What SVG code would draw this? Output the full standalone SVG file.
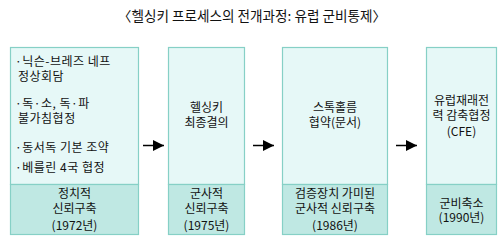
<svg xmlns="http://www.w3.org/2000/svg" width="502" height="244" viewBox="0 0 502 244">
<style>
text{font-family:"Noto Sans CJK KR","Noto Sans",sans-serif;font-size:12px;fill:#111}
.t{font-size:13.6px;text-anchor:middle}
.c{text-anchor:middle}
.top{fill:#e6f8f7;stroke:#86d0c6;stroke-width:1.2}
.bot{fill:#bfe8e3;stroke:#86d0c6;stroke-width:1.2}
.ar{stroke:#000;stroke-width:1.5;fill:none}
</style>
<defs>
<marker id="ah" markerWidth="12" markerHeight="12" refX="11" refY="5.5" orient="auto" markerUnits="userSpaceOnUse">
<path d="M0,0 L11,5.5 L0,11 Z" fill="#000"/>
</marker>
</defs>
<text class="t" x="252" y="21">〈헬싱키 프로세스의 전개과정: 유럽 군비통제〉</text>
<g id="node1">
<rect class="top" x="10.5" y="47.5" width="128" height="137"/>
<rect class="bot" x="10.5" y="184.5" width="128" height="50"/>
<text x="15" y="66" letter-spacing="0.5">·닉슨-브레즈 네프</text>
<text x="18" y="80.5" letter-spacing="0.5">정상회담</text>
<text x="15" y="108" letter-spacing="0.5">·독·소, 독·파</text>
<text x="18" y="122.5" letter-spacing="0.5">불가침협정</text>
<text x="15" y="152" letter-spacing="0.5">·동서독 기본 조약</text>
<text x="15" y="172" letter-spacing="0.5">·베를린 4국 협정</text>
<text class="c" x="74.5" y="198">정치적</text>
<text class="c" x="74.5" y="213">신뢰구축</text>
<text class="c" x="74.5" y="229.5">(1972년)</text>
</g>
<g id="node2">
<rect class="top" x="168.5" y="47.5" width="76" height="137"/>
<rect class="bot" x="168.5" y="184.5" width="76" height="50"/>
<text class="c" x="206.5" y="112">헬싱키</text>
<text class="c" x="206.5" y="127">최종결의</text>
<text class="c" x="206.5" y="198">군사적</text>
<text class="c" x="206.5" y="213">신뢰구축</text>
<text class="c" x="206.5" y="229.5">(1975년)</text>
</g>
<g id="node3">
<rect class="top" x="282.5" y="47.5" width="105" height="137"/>
<rect class="bot" x="282.5" y="184.5" width="105" height="50"/>
<text class="c" x="335" y="111.5">스톡홀름</text>
<text class="c" x="335" y="126.5">협약(문서)</text>
<text class="c" x="335" y="198">검증장치 가미된</text>
<text class="c" x="335" y="213">군사적 신뢰구축</text>
<text class="c" x="335" y="229.5">(1986년)</text>
</g>
<g id="node4">
<rect class="top" x="426.5" y="47.5" width="70" height="137"/>
<rect class="bot" x="426.5" y="184.5" width="70" height="50"/>
<text class="c" x="461.5" y="104.5">유럽재래전</text>
<text class="c" x="461.5" y="120">력 감축협정</text>
<text class="c" x="461.5" y="135.5">(CFE)</text>
<text class="c" x="461.5" y="208">군비축소</text>
<text class="c" x="461.5" y="221.5">(1990년)</text>
</g>
<g id="connectors">
<line class="ar" x1="143" y1="145.5" x2="164" y2="145.5" marker-end="url(#ah)"/>
<line class="ar" x1="253" y1="145.5" x2="274" y2="145.5" marker-end="url(#ah)"/>
<line class="ar" x1="396" y1="145.5" x2="417" y2="145.5" marker-end="url(#ah)"/>
</g>
</svg>
